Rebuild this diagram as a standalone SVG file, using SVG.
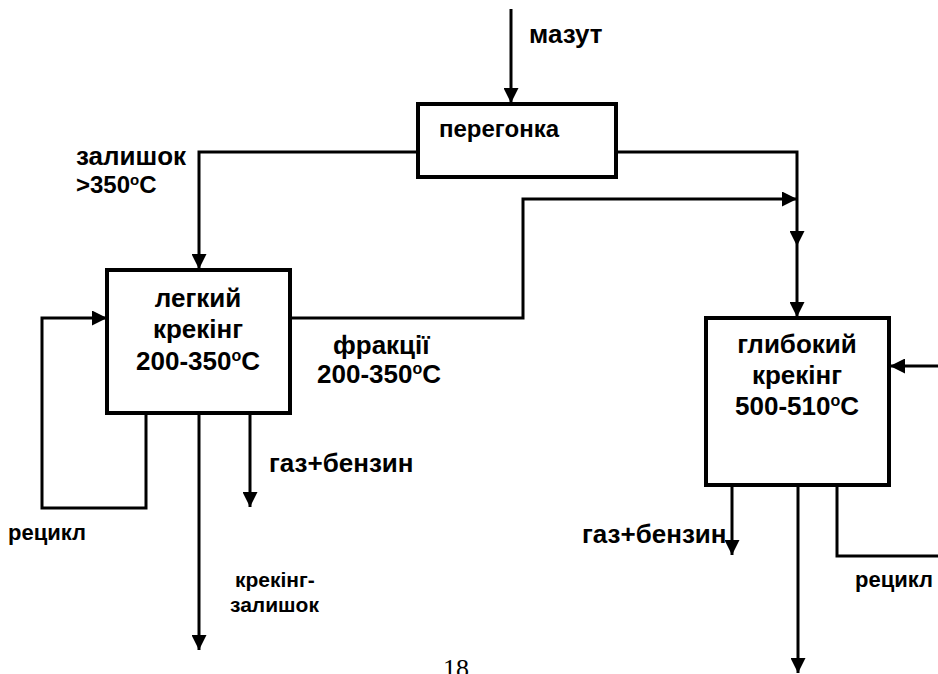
<svg xmlns="http://www.w3.org/2000/svg" width="938" height="674" viewBox="0 0 938 674">
<defs>
<marker id="ah" markerUnits="userSpaceOnUse" markerWidth="15" markerHeight="15" refX="15" refY="7.5" orient="auto">
<path d="M0,0 L15,7.5 L0,15 z" fill="#000"/>
</marker>
<style>
.box{fill:#fff;stroke:#000;stroke-width:4}
.ln{fill:none;stroke:#000;stroke-width:3;stroke-linejoin:miter}
.arr{fill:none;stroke:#000;stroke-width:3;marker-end:url(#ah)}
text{font-family:"Liberation Sans",Arial,sans-serif;font-weight:bold;fill:#000}
.big{font-size:26px}
.mid{font-size:24px}
.sm{font-size:22px}
.c{text-anchor:middle}
</style>
</defs>
<rect width="938" height="674" fill="#fff"/>
<g id="connectors">
<path class="arr" d="M511,9 V103"/>
<path class="arr" d="M418,152 H199 V269"/>
<path class="arr" d="M616,152 H797 V246"/>
<path class="arr" d="M797,246 V317"/>
<path class="arr" d="M290,318 H523 V199 H797"/>
<path class="arr" d="M146,413 V508 H42 V318 H107"/>
<path class="arr" d="M199,413 V650"/>
<path class="arr" d="M250,413 V507"/>
<path class="arr" d="M938,366 H890"/>
<path class="arr" d="M732,485 V555"/>
<path class="arr" d="M798,485 V673"/>
<path class="ln" d="M837,485 V556 H940"/>
</g>
<g id="peregonka">
<rect class="box" x="418" y="104" width="198" height="73"/>
<text x="439" y="137" style="font-size:24px">перегонка</text>
</g>
<g id="lehkyi">
<rect class="box" x="107" y="270" width="183" height="143"/>
<text class="big c" x="198" y="307">легкий</text>
<text class="big c" x="198" y="338">крекінг</text>
<text class="big c" x="198" y="370">200-350<tspan dy="-9" style="font-size:16px">o</tspan><tspan dy="9">C</tspan></text>
</g>
<g id="hlybokyi">
<rect class="box" x="706" y="318" width="183" height="167"/>
<text class="big c" x="797" y="353">глибокий</text>
<text class="big c" x="797" y="384">крекінг</text>
<text class="big c" x="797" y="415">500-510<tspan dy="-9" style="font-size:16px">o</tspan><tspan dy="9">C</tspan></text>
</g>
<g id="labels">
<text class="big" x="529" y="43">мазут</text>
<text class="big" x="76" y="165">залишок</text>
<text class="mid" x="76" y="193">&gt;350<tspan dy="-8" style="font-size:15px">o</tspan><tspan dy="8">C</tspan></text>
<text class="big" x="333" y="354">фракції</text>
<text class="big" x="317" y="383">200-350<tspan dy="-9" style="font-size:16px">o</tspan><tspan dy="9">C</tspan></text>
<text class="big" x="269" y="472">газ+бензин</text>
<text class="big" x="582" y="543">газ+бензин</text>
<text class="sm" x="8" y="540">рецикл</text>
<text class="sm" x="855" y="587">рецикл</text>
<text x="235" y="587" style="font-size:21px">крекінг-</text>
<text x="230" y="612" style="font-size:21px">залишок</text>
<text x="443" y="677" style="font-family:'Liberation Serif','Times New Roman',serif;font-weight:normal;font-size:26px">18</text>
</g>
</svg>
